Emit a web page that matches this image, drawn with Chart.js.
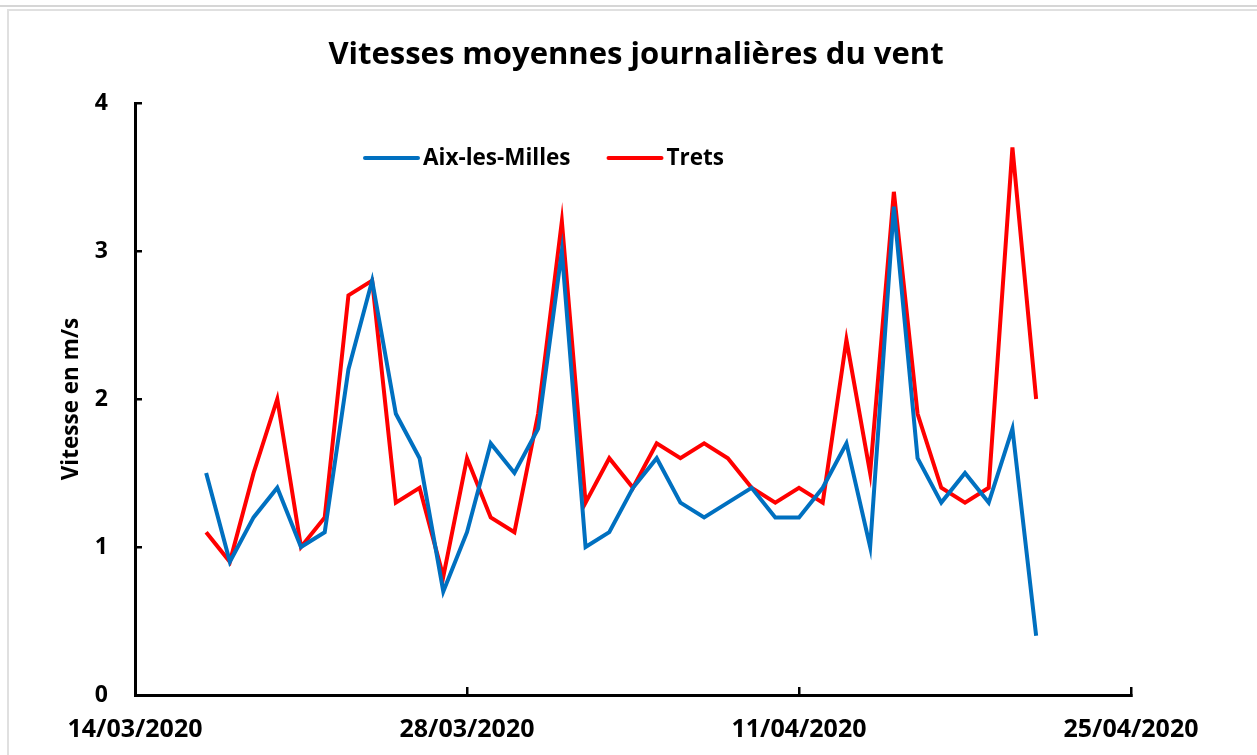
<!DOCTYPE html>
<html>
<head>
<meta charset="utf-8">
<script src="https://cdn.jsdelivr.net/npm/chart.js@4.4.1/dist/chart.umd.min.js"></script>
<style>
  html, body { margin: 0; padding: 0; background: #fff; }
  #wrap { position: relative; width: 1257px; height: 755px; overflow: hidden; }
  canvas { display: block; }
</style>
</head>
<body>
<div id="wrap"><canvas id="c" width="1257" height="755"></canvas></div>
<script>
// ---- Data ----
const chartTitle = 'Vitesses moyennes journalières du vent';
const yAxisTitle = 'Vitesse en m/s';
const dates = ['17/03/2020','18/03/2020','19/03/2020','20/03/2020','21/03/2020','22/03/2020','23/03/2020','24/03/2020','25/03/2020','26/03/2020','27/03/2020','28/03/2020','29/03/2020','30/03/2020','31/03/2020','01/04/2020','02/04/2020','03/04/2020','04/04/2020','05/04/2020','06/04/2020','07/04/2020','08/04/2020','09/04/2020','10/04/2020','11/04/2020','12/04/2020','13/04/2020','14/04/2020','15/04/2020','16/04/2020','17/04/2020','18/04/2020','19/04/2020','20/04/2020','21/04/2020'];
const aixLesMilles = [1.5,0.9,1.2,1.4,1.0,1.1,2.2,2.8,1.9,1.6,0.7,1.1,1.7,1.5,1.8,3.0,1.0,1.1,1.4,1.6,1.3,1.2,1.3,1.4,1.2,1.2,1.4,1.7,1.0,3.3,1.6,1.3,1.5,1.3,1.8,0.4];
const trets = [1.1,0.9,1.5,2.0,1.0,1.2,2.7,2.8,1.3,1.4,0.8,1.6,1.2,1.1,1.9,3.2,1.3,1.6,1.4,1.7,1.6,1.7,1.6,1.4,1.3,1.4,1.3,2.4,1.5,3.4,1.9,1.4,1.3,1.4,3.7,2.0];
const xTickLabels = ['14/03/2020','28/03/2020','11/04/2020','25/04/2020'];
const yTickValues = [0,1,2,3,4];

// ---- helpers ----
function toDay(s) {
  const [d, m, y] = s.split('/').map(Number);
  return Date.UTC(y, m - 1, d) / 86400000;
}
const origin = toDay(xTickLabels[0]);
const xEnd = toDay(xTickLabels[xTickLabels.length - 1]) - origin;
const xStep = toDay(xTickLabels[1]) - origin;
const toPoints = arr => arr.map((v, i) => ({ x: toDay(dates[i]) - origin, y: v }));

const FONT = "'Open Sans', 'DejaVu Sans', sans-serif";

const framePlugin = {
  id: 'frame',
  afterLayout(chart) {
    if (chart.titleBlock) {
      chart.titleBlock.left = 0;
      chart.titleBlock.right = chart.width + 15;
    }
  },
  beforeDraw(chart) {
    const ctx = chart.ctx;
    ctx.save();
    ctx.fillStyle = '#fff';
    ctx.fillRect(0, 0, chart.width, chart.height);
    ctx.fillStyle = '#d6d6d6';
    ctx.fillRect(0, 5, chart.width, 2);
    ctx.fillStyle = '#e0e0e0';
    ctx.fillRect(7, 9, chart.width - 7, 2);
    ctx.fillRect(7, 9, 2, chart.height - 9);
    ctx.restore();
  }
};

const legendPlugin = {
  id: 'innerLegend',
  afterDraw(chart) {
    const ctx = chart.ctx;
    const area = chart.chartArea;
    let x = area.left + 230;
    const y = area.top + 55;
    ctx.save();
    ctx.font = "bold 22.5px " + FONT;
    ctx.textBaseline = 'middle';
    ctx.textAlign = 'left';
    chart.data.datasets.forEach(ds => {
      ctx.strokeStyle = ds.borderColor;
      ctx.lineWidth = 4;
      ctx.lineCap = 'round';
      ctx.beginPath();
      ctx.moveTo(x, y);
      ctx.lineTo(x + 53, y);
      ctx.stroke();
      ctx.fillStyle = '#000';
      ctx.fillText(ds.label, x + 58, y + 1);
      x += 58 + ctx.measureText(ds.label).width + 38;
    });
    ctx.restore();
  }
};

new Chart(document.getElementById('c'), {
  type: 'line',
  data: {
    datasets: [
      { label: 'Aix-les-Milles', data: toPoints(aixLesMilles), borderColor: '#0070C0', backgroundColor: '#0070C0', borderWidth: 4, pointRadius: 0, tension: 0, fill: false },
      { label: 'Trets', data: toPoints(trets), borderColor: '#FF0000', backgroundColor: '#FF0000', borderWidth: 4, pointRadius: 0, tension: 0, fill: false }
    ]
  },
  options: {
    responsive: false,
    devicePixelRatio: 1,
    animation: false,
    layout: { padding: { left: 50, right: 126, top: 0, bottom: 0 } },
    plugins: {
      legend: { display: false },
      tooltip: { enabled: false },
      title: {
        display: true,
        text: chartTitle,
        color: '#000',
        font: { family: FONT, size: 31, weight: 'bold', lineHeight: 1.2 },
        padding: { top: 36.4, bottom: 29.4 }
      }
    },
    scales: {
      x: {
        type: 'linear',
        min: 0,
        max: xEnd,
        afterFit(s) { s.height = 60; },
        afterBuildTicks(s) {
          s.ticks = xTickLabels.map(t => ({ value: toDay(t) - origin }));
        },
        ticks: {
          stepSize: xStep,
          color: '#000',
          font: { family: FONT, size: 25, weight: 'bold' },
          padding: 28,
          maxRotation: 0,
          autoSkip: false,
          callback: (v) => {
            const i = xTickLabels.findIndex(t => toDay(t) - origin === v);
            return i >= 0 ? xTickLabels[i] : '';
          }
        },
        grid: { drawOnChartArea: false, drawTicks: true, tickLength: -8, color: '#000', lineWidth: 2.5 },
        border: { display: true, color: '#000', width: 3 }
      },
      y: {
        type: 'linear',
        min: 0,
        max: 4,
        afterFit(s) { s.width = 85; },
        afterBuildTicks(s) { s.ticks = yTickValues.map(v => ({ value: v })); },
        ticks: {
          stepSize: 1,
          color: '#000',
          font: { family: FONT, size: 23, weight: 'bold' },
          padding: 34
        },
        title: {
          display: true,
          text: yAxisTitle,
          color: '#000',
          font: { family: FONT, size: 22.5, weight: 'bold' },
          padding: { top: 8, bottom: 0 }
        },
        grid: { drawOnChartArea: false, drawTicks: true, tickLength: -7, color: '#000', lineWidth: 2.5 },
        border: { display: true, color: '#000', width: 3 }
      }
    }
  },
  plugins: [framePlugin, legendPlugin]
});
</script>
</body>
</html>
